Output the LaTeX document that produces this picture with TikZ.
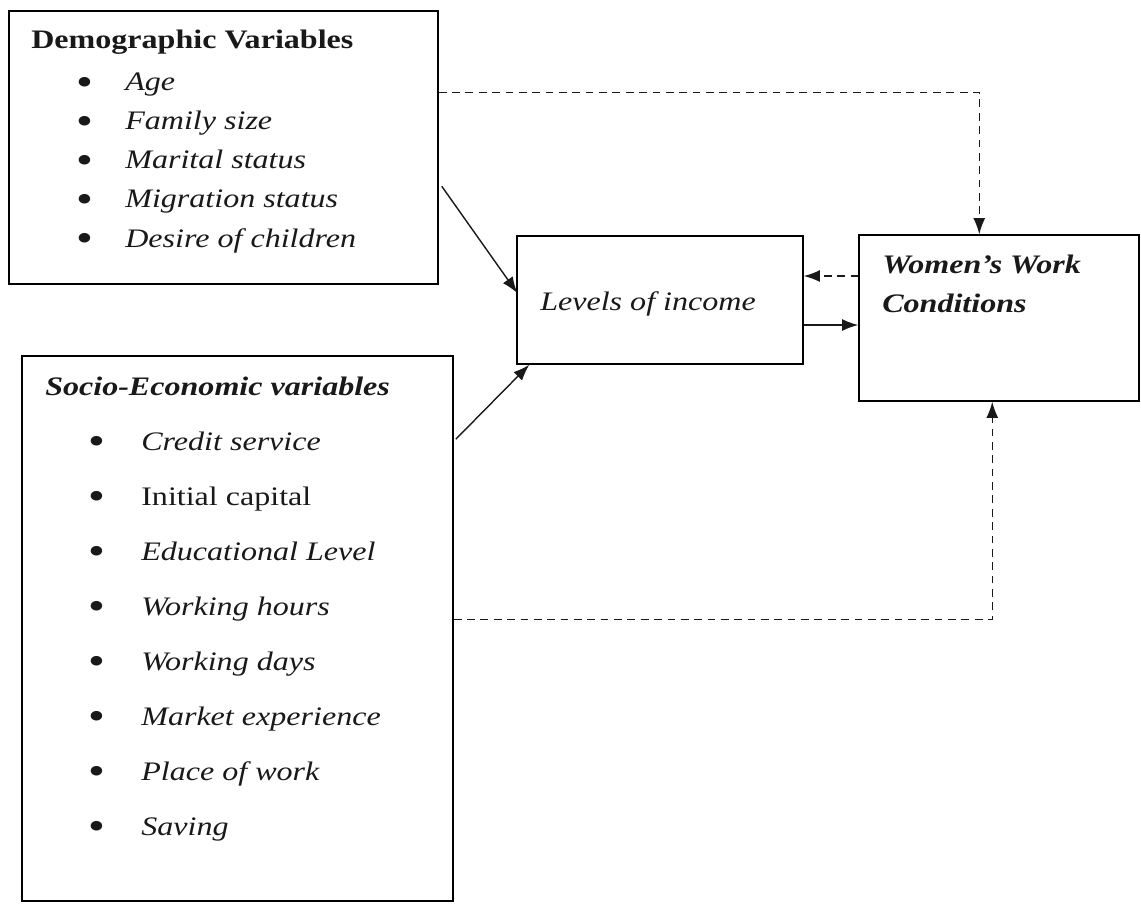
\documentclass[tikz,border=0pt]{standalone}
\usepackage{fontspec}
\setmainfont{Liberation Serif}[FakeStretch=1.2]
\usetikzlibrary{positioning, arrows.meta, calc}

\newcommand{\itembullet}[1]{\makebox[#1][l]{\upshape\raisebox{-3.5pt}{\scalebox{1.5}{\textbullet}}}}

\begin{document}
\begin{tikzpicture}[
  x=0.025cm, y=-0.025cm,
  every node/.style={font=\fontsize{19}{22}\selectfont},
  varbox/.style={
    rectangle, draw=black, line width=1pt, inner sep=0pt
  },
  labeltext/.style={
    anchor=base west, inner sep=0pt, text=black!90
  },
  itemtext/.style={
    labeltext, font=\fontsize{19}{22}\selectfont\itshape
  },
  link/.style={
    draw=black!90, line width=1pt, -{Latex[length=11.5pt,width=8.5pt]}
  },
  dashlink/.style={
    link, dash pattern=on 5.5pt off 4pt
  },
]
\useasboundingbox (0,0) rectangle (1141,904);

% Boxes
\node[varbox, minimum width=10.725cm, minimum height=6.825cm] (demo) at (223.5,147.5) {};
\node[varbox, minimum width=10.775cm, minimum height=13.625cm] (socio) at (237.5,628.5) {};
\node[varbox, minimum width=7.15cm, minimum height=3.2cm] (levels) at (660,300) {};
\node[varbox, minimum width=7cm, minimum height=4.15cm] (women) at (999,318) {};

% Titles
\node[labeltext] (demotitle) at (31,48) {\bfseries Demographic Variables};
\node[labeltext] (sociotitle) at (45,395) {\bfseries\itshape Socio-Economic variables};
\node[itemtext] (levelstext) at (540,310) {Levels of income};
\node[labeltext] (womentext1) at (882,273) {\bfseries\itshape Women's Work};
\node[labeltext] (womentext2) at (882,312) {\bfseries\itshape Conditions};

% Items
\foreach \txt [count=\i] in {Age, Family size, Marital status, Migration status, Desire of children} {
  \node[itemtext] (demoitem\i) at (76,{51+39.2*\i}) {\itembullet{1.225cm}\txt};
}
\foreach \txt [count=\i] in {Credit service, \upshape Initial capital, Educational Level, Working hours,
  Working days, Market experience, Place of work, Saving} {
  \node[itemtext] (socioitem\i) at (88,{395+55*\i}) {\itembullet{1.325cm}\txt};
}

% Connections
\draw[draw=black!90, line width=1pt] ($(demo.south)+(-8.5,0)$) -- ($(demo.south)+(-8.5,0)$ |- socio.north);
\draw[link] ($(demo.north east)+(3,176)$) -- ($(levels.west)+(1,-7)$);
\draw[link] ($(socio.north east)+(2,84)$) -- ($(levels.south west)+(13,0)$);
\draw[link] ($(levels.east)+(0,25)$) -- ($(women.west)+(0,7)$);
\draw[dashlink] ($(women.west)+(0,-42)$) -- ($(levels.east)+(0,-24)$);
\draw[dashlink] ($(demo.north east)+(0,82)$) -| ($(women.north west)+(121,0)$);
\draw[dashlink] ($(socio.north east)+(0,264)$) -| ($(women.south west)+(134,0)$);

\end{tikzpicture}
\end{document}
